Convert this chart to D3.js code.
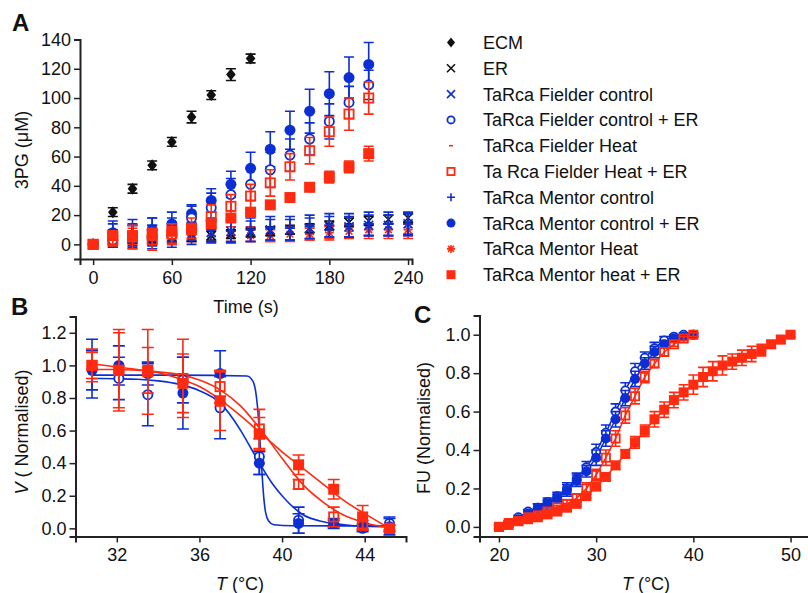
<!DOCTYPE html>
<html>
<head>
<meta charset="utf-8">
<script src="https://cdn.jsdelivr.net/npm/d3@7"></script>
<style>
  body { margin: 0; background: #fff; }
  svg text { font-family: Arial, "Liberation Sans", sans-serif; fill: #111; }
</style>
</head>
<body>
<div id="chart"></div>
<script>
// ---- panel A : 3PG production over time ----
var timeA = [0, 15, 30, 45, 60, 75, 90, 105, 120, 135, 150, 165, 180, 195, 210, 225, 240];
var ecmVal = [0, 22, 38, 54, 70, 87, 102, 116, 127];
var ecmErr = [1, 3, 3, 3, 3, 4, 3, 4, 3];
var erVal = [0, 3, 4, 4, 5, 5, 6, 7, 8, 9, 10, 11, 13, 15, 16, 17, 18];
var erErr = [1, 3, 3, 3, 3, 3, 3, 3, 3, 3, 3, 3, 3, 3, 3, 3, 3];
var fCtrlVal = [0, 4, 6, 6, 7, 7, 8, 9, 9, 10, 10, 11, 12, 12, 13, 13, 14];
var fCtrlErr = [1, 6, 7, 7, 7, 7, 7, 7, 7, 7, 7, 7, 7, 7, 7, 7, 7];
var fCtrlErVal = [0, 3, 5, 5, 6, 18, 25, 34, 41, 51, 61, 72, 84, 97, 109];
var fCtrlErErr = [1, 5, 8, 8, 8, 8, 10, 11, 11, 12, 11, 11, 12, 11, 10];
var fHeatVal = [0, 5, 6, 6, 7, 7, 7, 7, 7, 7, 7, 8, 8, 9, 9, 9, 9];
var fHeatErr = [1, 5, 5, 5, 5, 5, 5, 5, 5, 5, 5, 5, 5, 5, 5, 5, 5];
var fHeatErVal = [0, 3, 5, 3, 7, 11, 19, 26, 33, 42, 53, 64, 77, 89, 100];
var fHeatErErr = [1, 4, 8, 7, 7, 7, 8, 8, 8, 9, 9, 9, 10, 11, 11];
var mCtrlVal = [0, 8, 9, 10, 10, 11, 10, 9, 10, 11, 11, 12, 13, 13, 14, 14, 14];
var mCtrlErr = [1, 8, 8, 8, 8, 8, 8, 8, 8, 8, 8, 8, 8, 8, 8, 8, 8];
var mCtrlErVal = [0, 8, 6, 10, 14, 21, 30, 41, 52, 65, 78, 91, 103, 114, 123];
var mCtrlErErr = [1, 6, 8, 8, 8, 6, 8, 9, 11, 12, 13, 15, 15, 14, 15];
var mHeatVal = [0, 3, 4, 4, 5, 6, 6, 6, 6, 6, 7, 7, 8, 9, 10, 10, 10];
var mHeatErr = [1, 4, 4, 4, 4, 4, 4, 4, 4, 4, 4, 4, 4, 4, 4, 4, 4];
var mHeatErVal = [0, 6, 6, 7, 9, 10, 14, 18, 22, 27, 32, 39, 46, 53, 62];
var mHeatErErr = [1, 3, 3, 4, 3, 3, 3, 2, 2, 2, 2, 2, 4, 4, 5];
var ticksA_x = [0, 60, 120, 180, 240];
var ticksA_y = [0, 20, 40, 60, 80, 100, 120, 140];

// ---- panel B : activity vs temperature ----
var tempB = [30.8, 32.1, 33.5, 35.2, 37.0, 38.9, 40.8, 42.5, 43.9, 45.2];
var bFilledVal = [0.97, 1.0, 0.95, 0.83, 0.95, 0.40, 0.03, 0.03, 0.01, 0.01];
var bFilledErr = [0.12, 0.12, 0.07, 0.22, 0.14, 0.07, 0.06, 0.03, 0.02, 0.05];
var bOpenVal = [0.98, 0.92, 0.82, 0.91, 0.74, 0.44, 0.05, 0.03, 0.0, 0.03];
var bOpenErr = [0.18, 0.13, 0.19, 0.14, 0.19, 0.11, 0.08, 0.02, 0.02, 0.04];
var rFilledVal = [1.0, 0.97, 0.97, 0.89, 0.78, 0.58, 0.39, 0.24, 0.07, 0.0];
var rFilledErr = [0.10, 0.25, 0.14, 0.18, 0.18, 0.10, 0.06, 0.06, 0.07, 0.02];
var rOpenVal = [1.0, 0.97, 0.96, 0.92, 0.87, 0.61, 0.27, 0.07, 0.02, 0.0];
var rOpenErr = [0.08, 0.23, 0.26, 0.24, 0.10, 0.12, 0.03, 0.06, 0.03, 0.02];
// fitted curves
var fitBFilledT = [30.8, 35, 38.3, 38.6, 38.8, 38.9, 39.0, 39.1, 39.2, 39.35, 39.6, 40.5, 45.2];
var fitBFilledV = [0.94, 0.94, 0.935, 0.9, 0.76, 0.6, 0.4, 0.21, 0.1, 0.045, 0.022, 0.016, 0.015];
var fitBOpenT = [30.8, 32, 33, 34, 35, 36, 37, 38, 38.5, 39, 39.5, 40, 41, 42, 43, 44, 45.2];
var fitBOpenV = [0.92, 0.918, 0.915, 0.905, 0.885, 0.845, 0.77, 0.6, 0.49, 0.38, 0.28, 0.2, 0.085, 0.04, 0.022, 0.013, 0.01];
var fitRFilledT = [30.8, 32, 33, 34, 35, 36, 37, 38, 39, 40, 41, 42, 43, 44, 45.2];
var fitRFilledV = [1.01, 0.99, 0.975, 0.955, 0.92, 0.87, 0.79, 0.69, 0.58, 0.47, 0.37, 0.27, 0.17, 0.09, 0.0];
var fitROpenT = [30.8, 32, 33, 34, 35, 36, 37, 38, 39, 40, 41, 42, 43, 44, 45.2];
var fitROpenV = [0.975, 0.975, 0.97, 0.96, 0.945, 0.91, 0.85, 0.75, 0.6, 0.43, 0.27, 0.16, 0.08, 0.035, 0.005];
var ticksB_x = [32, 36, 40, 44];
var ticksB_y = [0, 0.2, 0.4, 0.6, 0.8, 1.0, 1.2];

// ---- panel C : unfolding ----
var tempC = [20, 21, 22, 23, 24, 25, 26, 27, 28, 29, 30, 31, 32, 33, 34, 35, 36, 37, 38, 39, 40];
var tempC2 = [20, 21, 22, 23, 24, 25, 26, 27, 28, 29, 30, 31, 32, 33, 34, 35, 36, 37, 38, 39, 40,
              41, 42, 43, 44, 45, 46, 47, 48, 49, 50];
var cBFilledVal = [0.0, 0.02, 0.04, 0.07, 0.10, 0.12, 0.15, 0.19, 0.24, 0.29, 0.36, 0.46, 0.56, 0.67, 0.77, 0.85, 0.91, 0.95, 0.98, 0.99, 1.0];
var cBFilledErr = [0.01, 0.01, 0.01, 0.01, 0.02, 0.02, 0.02, 0.03, 0.03, 0.03, 0.04, 0.04, 0.04, 0.04, 0.04, 0.03, 0.03, 0.02, 0.01, 0.01, 0.01];
var cBOpenVal = [0.0, 0.02, 0.05, 0.08, 0.10, 0.13, 0.16, 0.20, 0.25, 0.31, 0.39, 0.49, 0.60, 0.71, 0.81, 0.88, 0.93, 0.97, 0.99, 1.0, 1.0];
var cBOpenErr = [0.01, 0.01, 0.01, 0.01, 0.02, 0.02, 0.02, 0.03, 0.03, 0.03, 0.04, 0.04, 0.04, 0.04, 0.04, 0.03, 0.03, 0.02, 0.01, 0.01, 0.01];
var cROpenVal = [0.0, 0.02, 0.03, 0.05, 0.06, 0.08, 0.10, 0.12, 0.15, 0.20, 0.27, 0.36, 0.46, 0.58, 0.68, 0.78, 0.85, 0.91, 0.95, 0.98, 1.0];
var cROpenErr = [0.01, 0.01, 0.01, 0.01, 0.01, 0.01, 0.01, 0.02, 0.02, 0.03, 0.03, 0.04, 0.04, 0.04, 0.04, 0.03, 0.02, 0.02, 0.01, 0.01, 0.01];
var cRFilledVal = [0.0, 0.01, 0.03, 0.04, 0.05, 0.065, 0.08, 0.10, 0.12, 0.16, 0.21, 0.26, 0.32, 0.38, 0.44, 0.50, 0.56, 0.61, 0.66, 0.70, 0.74,
                   0.78, 0.81, 0.84, 0.86, 0.88, 0.90, 0.92, 0.95, 0.975, 1.0];
var cRFilledErr = [0.01, 0.01, 0.01, 0.01, 0.01, 0.01, 0.01, 0.01, 0.01, 0.01, 0.02, 0.02, 0.02, 0.02, 0.03, 0.03, 0.04, 0.04, 0.04, 0.04, 0.05,
                   0.05, 0.05, 0.05, 0.04, 0.04, 0.04, 0.03, 0.02, 0.02, 0.01];
var ticksC_x = [20, 30, 40, 50];
var ticksC_y = [0, 0.2, 0.4, 0.6, 0.8, 1.0];

var legendNames = ["ECM", "ER", "TaRca Fielder control", "TaRca Fielder control + ER", "TaRca Fielder Heat",
                   "Ta Rca Fielder Heat + ER", "TaRca Mentor control", "TaRca Mentor control + ER",
                   "TaRca Mentor Heat", "TaRca Mentor heat + ER"];

(function() {
    var width = 808,
        height = 593;
    var blue = "#0c2fd3",
        red = "#ff2b10",
        black = "#111";

    var svg = d3.select("#chart")
        .append("svg")
        .attr("width", width)
        .attr("height", height);

    // marker shapes (filled / stroked)
    function markerPath(type, s) {
        if (type == "diamond") return "M0," + (-s) + "L" + (s * 0.8) + ",0L0," + s + "L" + (-s * 0.8) + ",0Z";
        if (type == "x") return "M" + (-s) + "," + (-s) + "L" + s + "," + s + "M" + (-s) + "," + s + "L" + s + "," + (-s);
        if (type == "plus") return "M" + (-s) + ",0L" + s + ",0M0," + (-s) + "L0," + s;
        if (type == "dash") return "M" + (-s * 0.5) + ",0L" + (s * 0.5) + ",0";
        if (type == "asterisk") {
            var a = s * 0.75;
            return "M" + (-s) + ",0L" + s + ",0M0," + (-s) + "L0," + s +
                "M" + (-a) + "," + (-a) + "L" + a + "," + a + "M" + (-a) + "," + a + "L" + a + "," + (-a);
        }
        return "";
    }

    function drawMarker(g, type, color, cx, cy, s) {
        if (type == "circle" || type == "ocircle") {
            g.append("circle")
                .attr("cx", cx).attr("cy", cy)
                .attr("r", type == "circle" ? s : s - 0.9)
                .attr("fill", type == "circle" ? color : "#fff")
                .attr("stroke", color)
                .attr("stroke-width", type == "circle" ? 0 : 1.8);
        } else if (type == "square" || type == "osquare") {
            var h = type == "square" ? s : s - 0.9;
            g.append("rect")
                .attr("x", cx - h).attr("y", cy - h)
                .attr("width", 2 * h).attr("height", 2 * h)
                .attr("fill", type == "square" ? color : "none")
                .attr("stroke", color)
                .attr("stroke-width", type == "square" ? 0 : 1.8);
        } else if (type == "diamond") {
            g.append("path")
                .attr("transform", "translate(" + cx + "," + cy + ")")
                .attr("d", markerPath(type, s))
                .attr("fill", color);
        } else {
            g.append("path")
                .attr("transform", "translate(" + cx + "," + cy + ")")
                .attr("d", markerPath(type, s))
                .attr("fill", "none")
                .attr("stroke", color)
                .attr("stroke-width", 1.6);
        }
    }

    function drawSeries(g, x, y, xs, vals, errs, type, color, size, cap) {
        var eg = g.append("g");
        vals.forEach(function(v, i) {
            var cx = x(xs[i]),
                top = y(v + errs[i]),
                bot = y(v - errs[i]);
            eg.append("path")
                .attr("d", "M" + cx + "," + top + "V" + bot +
                    "M" + (cx - cap) + "," + top + "H" + (cx + cap) +
                    "M" + (cx - cap) + "," + bot + "H" + (cx + cap))
                .attr("stroke", color)
                .attr("stroke-width", 1.6)
                .attr("fill", "none");
        });
        var mg = g.append("g");
        vals.forEach(function(v, i) {
            drawMarker(mg, type, color, x(xs[i]), y(v), size);
        });
    }

    function styleAxis(ax) {
        ax.select(".domain").attr("stroke", "#222").attr("stroke-width", 2);
        ax.selectAll(".tick line").attr("stroke", "#222").attr("stroke-width", 1.5);
        ax.selectAll(".tick text").attr("font-size", 18).attr("fill", "#111")
            .attr("font-family", "Arial, 'Liberation Sans', sans-serif");
    }

    function drawAxes(x, y, xt, yt, xfmt, yfmt) {
        var r = x.range(), d = y.range();
        var ax = svg.append("g")
            .attr("transform", "translate(0," + d[0] + ")")
            .call(d3.axisBottom(x).tickValues(xt).tickFormat(xfmt).tickSizeOuter(0).tickSize(6).tickPadding(6));
        styleAxis(ax);
        var ay = svg.append("g")
            .attr("transform", "translate(" + r[0] + ",0)")
            .call(d3.axisLeft(y).tickValues(yt).tickFormat(yfmt).tickSizeOuter(0).tickSize(6).tickPadding(3));
        styleAxis(ay);
    }

    function panelLetter(txt, px, py) {
        svg.append("text")
            .attr("x", px).attr("y", py)
            .attr("font-size", 24)
            .attr("font-weight", "bold")
            .text(txt);
    }

    // ================= A =================
    var xA = d3.scaleLinear().domain([-10, 243]).range([80, 412]);
    var yA = d3.scaleLinear().domain([-10, 140]).range([259, 39.5]);
    var gA = svg.append("g");

    drawSeries(gA, xA, yA, timeA, mHeatVal, mHeatErr, "asterisk", red, 4.5, 5);
    drawSeries(gA, xA, yA, timeA, fHeatVal, fHeatErr, "dash", red, 5, 5);
    drawSeries(gA, xA, yA, timeA, erVal, erErr, "x", black, 4.5, 5);
    drawSeries(gA, xA, yA, timeA, fCtrlVal, fCtrlErr, "x", blue, 4.5, 5);
    drawSeries(gA, xA, yA, timeA, mCtrlVal, mCtrlErr, "plus", blue, 5, 5);
    drawSeries(gA, xA, yA, timeA.slice(0, 9), ecmVal, ecmErr, "diamond", black, 6, 5);
    drawSeries(gA, xA, yA, timeA.slice(0, 15), mCtrlErVal, mCtrlErErr, "circle", blue, 5.5, 5);
    drawSeries(gA, xA, yA, timeA.slice(0, 15), fCtrlErVal, fCtrlErErr, "ocircle", blue, 5.5, 5);
    drawSeries(gA, xA, yA, timeA.slice(0, 15), fHeatErVal, fHeatErErr, "osquare", red, 5.5, 5);
    drawSeries(gA, xA, yA, timeA.slice(0, 15), mHeatErVal, mHeatErErr, "square", red, 5.5, 5);

    drawAxes(xA, yA, ticksA_x, ticksA_y, d3.format("d"), d3.format("d"));

    svg.append("text")
        .attr("x", 246).attr("y", 313)
        .attr("text-anchor", "middle")
        .attr("font-size", 18)
        .text("Time (s)");
    svg.append("text")
        .attr("transform", "translate(28,150) rotate(-90)")
        .attr("text-anchor", "middle")
        .attr("font-size", 18)
        .text("3PG (\u03BCM)");
    panelLetter("A", 12, 31);

    // legend
    var legTypes = ["diamond", "x", "x", "ocircle", "dash", "osquare", "plus", "circle", "asterisk", "square"];
    var legColors = [black, black, blue, blue, red, red, blue, blue, red, red];
    var leg = svg.append("g");
    legendNames.forEach(function(name, i) {
        var ly = 42.5 + i * 25.8;
        var s = legTypes[i] == "circle" || legTypes[i] == "ocircle" || legTypes[i] == "square" || legTypes[i] == "osquare" ? 4.5 : 4;
        if (legTypes[i] == "diamond") s = 5;
        drawMarker(leg, legTypes[i], legColors[i], 451, ly, s);
        leg.append("text")
            .attr("x", 483).attr("y", ly + 6.5)
            .attr("font-size", 18)
            .text(name);
    });

    // ================= B =================
    var xB = d3.scaleLinear().domain([30, 46]).range([75.5, 406]);
    var yB = d3.scaleLinear().domain([-0.05, 1.3]).range([536.5, 316.5]);
    var gB = svg.append("g");
    var lineB = d3.line()
        .x(function(d) { return xB(d[0]); })
        .y(function(d) { return yB(d[1]); })
        .curve(d3.curveMonotoneX);

    [[fitBOpenT, fitBOpenV, blue], [fitBFilledT, fitBFilledV, blue],
     [fitRFilledT, fitRFilledV, red], [fitROpenT, fitROpenV, red]].forEach(function(c) {
        gB.append("path")
            .datum(d3.zip(c[0], c[1]))
            .attr("d", lineB)
            .attr("fill", "none")
            .attr("stroke", c[2])
            .attr("stroke-width", 1.6);
    });

    drawSeries(gB, xB, yB, tempB, bOpenVal, bOpenErr, "ocircle", blue, 5.5, 6);
    drawSeries(gB, xB, yB, tempB, bFilledVal, bFilledErr, "circle", blue, 5.5, 6);
    drawSeries(gB, xB, yB, tempB, rOpenVal, rOpenErr, "osquare", red, 5.5, 6);
    drawSeries(gB, xB, yB, tempB, rFilledVal, rFilledErr, "square", red, 5.5, 6);

    drawAxes(xB, yB, ticksB_x, ticksB_y, d3.format("d"), d3.format(".1f"));

    var tB = svg.append("text")
        .attr("x", 240).attr("y", 590)
        .attr("text-anchor", "middle")
        .attr("font-size", 18);
    tB.append("tspan").attr("font-style", "italic").text("T");
    tB.append("tspan").text(" (\u00B0C)");

    var vB = svg.append("text")
        .attr("transform", "translate(28,432) rotate(-90)")
        .attr("text-anchor", "middle")
        .attr("font-size", 18);
    vB.append("tspan").attr("font-style", "italic").text("V");
    vB.append("tspan").text(" ( Normalised)");
    panelLetter("B", 11, 315);

    // ================= C =================
    var xC = d3.scaleLinear().domain([18, 52]).range([479.5, 810]);
    var yC = d3.scaleLinear().domain([-0.05, 1.1]).range([536.5, 315.5]);
    var gC = svg.append("g");
    var lineC = d3.line()
        .x(function(d) { return xC(d[0]); })
        .y(function(d) { return yC(d[1]); });

    [[tempC, cBOpenVal, blue], [tempC, cBFilledVal, blue],
     [tempC, cROpenVal, red], [tempC2, cRFilledVal, red]].forEach(function(c) {
        gC.append("path")
            .datum(d3.zip(c[0], c[1]))
            .attr("d", lineC)
            .attr("fill", "none")
            .attr("stroke", c[2])
            .attr("stroke-width", 1.5);
    });

    drawSeries(gC, xC, yC, tempC, cBOpenVal, cBOpenErr, "ocircle", blue, 5, 5);
    drawSeries(gC, xC, yC, tempC, cBFilledVal, cBFilledErr, "circle", blue, 5, 5);
    drawSeries(gC, xC, yC, tempC, cROpenVal, cROpenErr, "osquare", red, 5, 5);
    drawSeries(gC, xC, yC, tempC2, cRFilledVal, cRFilledErr, "square", red, 5, 5);

    drawAxes(xC, yC, ticksC_x, ticksC_y, d3.format("d"), d3.format(".1f"));

    var tC = svg.append("text")
        .attr("x", 646).attr("y", 590)
        .attr("text-anchor", "middle")
        .attr("font-size", 18);
    tC.append("tspan").attr("font-style", "italic").text("T");
    tC.append("tspan").text(" (\u00B0C)");

    svg.append("text")
        .attr("transform", "translate(430,428) rotate(-90)")
        .attr("text-anchor", "middle")
        .attr("font-size", 18)
        .text("FU (Normalised)");
    panelLetter("C", 414, 323);
})();
</script>
</body>
</html>
